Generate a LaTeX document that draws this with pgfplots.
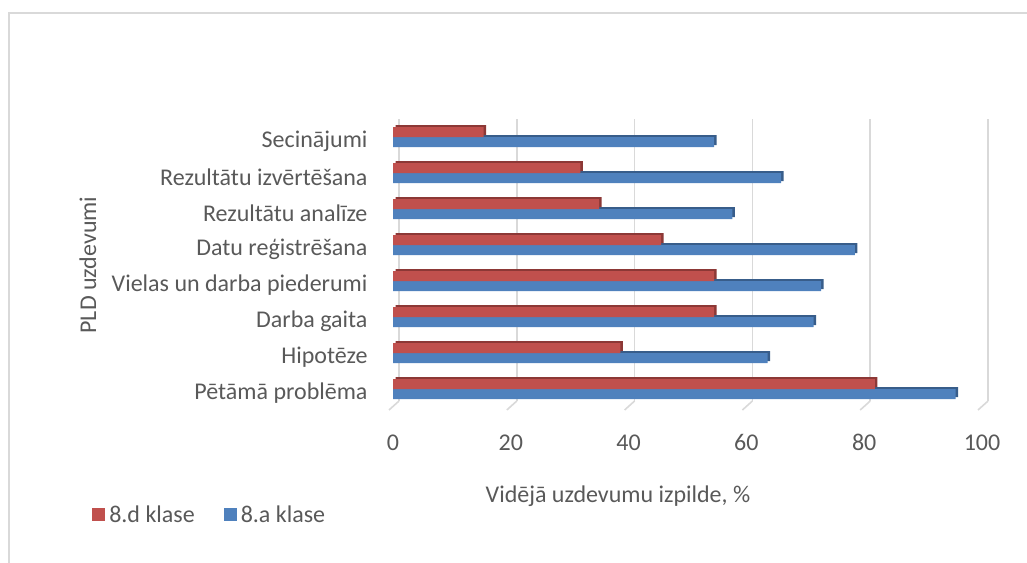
\documentclass[border=0pt]{standalone}
\usepackage{fontspec}
\setmainfont{Carlito}
\usepackage{pgfplots}
\pgfplotsset{compat=1.18}
\definecolor{cred}{HTML}{C0504D}
\definecolor{cblue}{HTML}{4F81BD}
\definecolor{dred}{HTML}{8C3836}
\definecolor{dblue}{HTML}{385D8A}
\definecolor{txt}{HTML}{595959}
\definecolor{grd}{HTML}{D9D9D9}
\begin{document}
\begin{tikzpicture}[x=1pt,y=1pt]
\path[use as bounding box] (0,0) rectangle (1027,562);
\draw[grd,line width=1.5pt] (9,-5) -- (9,549) -- (1040,549);
\begin{axis}[
  at={(393pt,161pt)}, anchor=south west,
  scale only axis, width=589pt, height=282pt,
  xmin=0, xmax=100, ymin=-0.33, ymax=7.5,
  clip=false,
  xbar, bar width=10pt,
  axis line style={draw=none},
  major tick length=0pt,
  xtick={0,20,40,60,80,100},
  ytick={0,1,2,3,4,5,6,7},
  yticklabels={Pētāmā problēma,Hipotēze,Darba gaita,Vielas un darba piederumi,Datu reģistrēšana,Rezultātu analīze,Rezultātu izvērtēšana,Secinājumi},
  xmajorgrids,
  major grid style={draw=grd,line width=1.6pt,xshift=6pt},
  tick label style={font=\fontsize{24}{28}\selectfont, text=txt},
  /pgf/number format/assume math mode=true,
  xticklabel style={yshift=-30pt},
  yticklabel style={xshift=-22pt, yshift=-4pt},
  xlabel={Vidējā uzdevumu izpilde, \%},
  xlabel style={font=\fontsize{24}{28}\selectfont, text=txt, at={(axis description cs:0.382,-0.337)}, anchor=center},
  ylabel={PLD uzdevumi},
  ylabel style={font=\fontsize{24}{28}\selectfont, text=txt, at={(axis description cs:-0.518,0.482)}, anchor=center, rotate=0},
  legend columns=2, reverse legend,
  legend style={draw=none, fill=none, font=\fontsize{24}{28}\selectfont, text=txt,
    at={(axis description cs:-0.516,-0.404)}, anchor=west,
    /tikz/every odd column/.append style={column sep=2pt},
    /tikz/every even column/.append style={column sep=27pt}},
  legend image code/.code={\fill[#1] (0pt,-6pt) rectangle (13pt,7pt);},
]
\pgfplotsinvokeforeach{0,20,40,60,80,100}{
  \draw[grd,line width=1.6pt] ([xshift=6pt]axis cs:#1,-0.33) -- ([xshift=-4pt,yshift=-9pt]axis cs:#1,-0.33);
}
% depth faces
\addplot[fill=dblue, draw=none, bar shift=-5pt, xshift=2.5pt, yshift=2pt, forget plot] coordinates {
 (95.5,0) (63.6,1) (71.4,2) (72.7,3) (78.4,4) (57.6,5) (65.9,6) (54.5,7)};
% front faces
\addplot[fill=cblue, draw=none, bar shift=-5pt] coordinates {
 (95.5,0) (63.6,1) (71.4,2) (72.7,3) (78.4,4) (57.6,5) (65.9,6) (54.5,7)};
\addplot[fill=dred, draw=none, bar shift=5pt, xshift=2.5pt, yshift=2pt, forget plot] coordinates {
 (81.8,0) (38.6,1) (54.5,2) (54.5,3) (45.5,4) (35.0,5) (31.8,6) (15.4,7)};
\addplot[fill=cred, draw=none, bar shift=5pt] coordinates {
 (81.8,0) (38.6,1) (54.5,2) (54.5,3) (45.5,4) (35.0,5) (31.8,6) (15.4,7)};
\legend{8.a klase, 8.d klase}
\end{axis}
\end{tikzpicture}
\end{document}
